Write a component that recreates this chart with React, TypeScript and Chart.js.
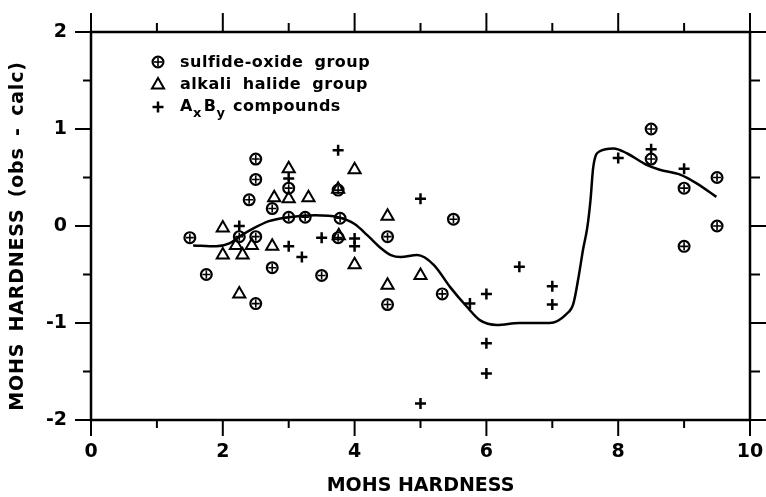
import React, { useEffect, useRef } from 'react';
import { Chart, registerables } from 'chart.js';

Chart.register(...registerables);

// ---- data ----
const sulfideX = [1.5, 1.75, 2.25, 2.5, 2.4, 2.5, 2.5, 2.5, 2.75, 2.75, 3.0, 3.0, 3.25, 3.5, 3.75, 3.78, 3.75, 4.5, 4.5, 5.33, 5.5, 8.5, 8.5, 9.0, 9.0, 9.5, 9.5];
const sulfideY = [-0.12, -0.5, -0.11, -0.11, 0.27, 0.48, 0.69, -0.8, 0.18, -0.43, 0.39, 0.09, 0.09, -0.51, 0.37, 0.08, -0.12, -0.11, -0.81, -0.7, 0.07, 1.0, 0.69, 0.39, -0.21, 0.5, 0.0];

const halideX = [2.0, 2.0, 2.2, 2.3, 2.44, 2.25, 2.75, 2.78, 3.0, 3.0, 3.3, 3.75, 3.76, 4.0, 4.0, 4.5, 4.5, 5.0];
const halideY = [-0.02, -0.3, -0.2, -0.3, -0.2, -0.7, -0.21, 0.29, 0.28, 0.59, 0.29, 0.38, -0.1, 0.58, -0.4, 0.1, -0.61, -0.51];

const axbyX = [2.25, 3.0, 3.0, 3.2, 3.5, 3.75, 4.0, 4.0, 5.0, 5.0, 5.75, 6.0, 6.0, 6.0, 6.5, 7.0, 7.0, 8.0, 8.5, 9.0];
const axbyY = [0.0, 0.49, -0.21, -0.32, -0.12, 0.78, -0.13, -0.21, 0.28, -1.83, -0.8, -0.7, -1.21, -1.52, -0.42, -0.62, -0.81, 0.7, 0.79, 0.59];

const curveX = [1.55, 1.9, 2.1, 2.25, 2.45, 2.7, 3.0, 3.4, 3.75, 4.0, 4.2, 4.4, 4.55, 4.7, 4.95, 5.2, 5.45, 5.7, 5.9, 6.16, 6.5, 6.96, 7.21, 7.32, 7.4, 7.47, 7.53, 7.58, 7.62, 7.72, 7.93, 8.13, 8.43, 8.63, 8.94, 9.19, 9.49];
const curveY = [-0.2, -0.21, -0.18, -0.11, -0.03, 0.05, 0.09, 0.11, 0.09, 0.02, -0.1, -0.23, -0.3, -0.32, -0.3, -0.4, -0.63, -0.83, -0.97, -1.02, -1.0, -1.0, -0.91, -0.8, -0.52, -0.23, -0.02, 0.27, 0.6, 0.77, 0.8, 0.75, 0.63, 0.58, 0.53, 0.44, 0.3];

const xTickMarks = [0, 1, 2, 3, 4, 5, 6, 7, 8, 9, 10];
const yTickMarks = [-2, -1.5, -1, -0.5, 0, 0.5, 1, 1.5, 2];

const xTitle = 'MOHS HARDNESS';
const yTitle = 'MOHS HARDNESS (obs - calc)';
const legendLabel1 = 'sulfide-oxide group';
const legendLabel2 = 'alkali halide group';
const legendLabel3Parts = ['A', 'x', 'B', 'y', 'compounds'];

const pts = (xs: number[], ys: number[]) => xs.map((x, i) => ({ x, y: ys[i] }));

export default function App() {
  const ref = useRef<HTMLCanvasElement | null>(null);

  useEffect(() => {
    document.body.style.margin = '0';
    const canvas = ref.current!;

    const framePlugin = {
      id: 'framePlugin',
      afterDraw(chart: any) {
        const { ctx, chartArea: a, scales } = chart;
        const xs = scales.x;
        const ys = scales.y;
        ctx.save();
        ctx.strokeStyle = '#000';
        ctx.lineCap = 'butt';
        ctx.lineWidth = 2.5;
        ctx.strokeRect(a.left, a.top, a.right - a.left, a.bottom - a.top);
        ctx.lineWidth = 2;
        const line = (x1: number, y1: number, x2: number, y2: number) => {
          ctx.beginPath();
          ctx.moveTo(x1, y1);
          ctx.lineTo(x2, y2);
          ctx.stroke();
        };
        for (const v of xTickMarks) {
          const px = xs.getPixelForValue(v);
          const major = v % 2 === 0;
          line(px, a.bottom, px, a.bottom + (major ? 16 : 8));
          line(px, a.top, px, a.top - (major ? 19 : 9));
        }
        for (const v of yTickMarks) {
          const py = ys.getPixelForValue(v);
          const major = Number.isInteger(v);
          line(a.left, py, a.left - (major ? 16 : 8), py);
          line(a.right, py, a.right + (major ? 16 : 10), py);
        }

        // y axis title (rotated)
        ctx.save();
        ctx.fillStyle = '#000';
        ctx.translate(18, 236);
        ctx.rotate(-Math.PI / 2);
        ctx.font = 'bold 19px "DejaVu Sans"';
        (ctx as any).letterSpacing = '0.8px';
        (ctx as any).wordSpacing = '4px';
        ctx.textAlign = 'center';
        ctx.textBaseline = 'middle';
        ctx.fillText(yTitle, 0, 0);
        ctx.restore();

        // legend
        const mx = 158;
        const rows = [62, 85, 107];
        ctx.lineWidth = 2.2;
        ctx.beginPath();
        ctx.arc(mx, rows[0], 5.4, 0, Math.PI * 2);
        ctx.stroke();
        ctx.lineWidth = 1.6;
        line(mx - 4, rows[0], mx + 4, rows[0]);
        line(mx, rows[0] - 4, mx, rows[0] + 4);
        // triangle
        const r = 7;
        ctx.lineWidth = 2;
        ctx.beginPath();
        ctx.moveTo(mx, rows[1] - r);
        ctx.lineTo(mx + r * Math.sin((2 * Math.PI) / 3), rows[1] - r * Math.cos((2 * Math.PI) / 3));
        ctx.lineTo(mx + r * Math.sin((4 * Math.PI) / 3), rows[1] - r * Math.cos((4 * Math.PI) / 3));
        ctx.closePath();
        ctx.stroke();
        // plus
        ctx.lineWidth = 2.5;
        line(mx - 5.5, rows[2], mx + 5.5, rows[2]);
        line(mx, rows[2] - 5.5, mx, rows[2] + 5.5);

        ctx.fillStyle = '#000';
        ctx.textBaseline = 'alphabetic';
        ctx.textAlign = 'left';
        ctx.font = 'bold 16px "DejaVu Sans"';
        (ctx as any).letterSpacing = '0.5px';
        (ctx as any).wordSpacing = '5px';
        const tx = 180;
        ctx.fillText(legendLabel1, tx, 67);
        ctx.fillText(legendLabel2, tx, 89);
        // A_x B_y compounds
        let cx = tx;
        const base = 111;
        ctx.font = 'bold 16px "DejaVu Sans"';
        ctx.fillText(legendLabel3Parts[0], cx, base);
        cx += ctx.measureText(legendLabel3Parts[0]).width;
        ctx.font = 'bold 13px "DejaVu Sans"';
        ctx.fillText(legendLabel3Parts[1], cx, base + 6);
        cx += ctx.measureText(legendLabel3Parts[1]).width + 2;
        ctx.font = 'bold 16px "DejaVu Sans"';
        ctx.fillText(legendLabel3Parts[2], cx, base);
        cx += ctx.measureText(legendLabel3Parts[2]).width;
        ctx.font = 'bold 13px "DejaVu Sans"';
        ctx.fillText(legendLabel3Parts[3], cx, base + 6);
        ctx.font = 'bold 16px "DejaVu Sans"';
        ctx.fillText(legendLabel3Parts[4], 233, base);
        ctx.restore();
      },
    };

    const tickFont = { family: 'DejaVu Sans', weight: 'bold' as const, size: 19 };
    const titleFont = { family: 'DejaVu Sans', weight: 'bold' as const, size: 19 };
    const sulfidePts = pts(sulfideX, sulfideY);

    const chart = new Chart(canvas, {
      type: 'scatter',
      data: {
        datasets: [
          {
            label: legendLabel1 + ' (cross)',
            data: sulfidePts,
            pointStyle: 'cross',
            pointRadius: 4,
            borderWidth: 1.6,
            borderColor: '#000',
            backgroundColor: 'rgba(0,0,0,0)',
          },
          {
            label: legendLabel1,
            data: sulfidePts,
            pointStyle: 'circle',
            pointRadius: 5.4,
            borderWidth: 2.2,
            borderColor: '#000',
            backgroundColor: 'rgba(0,0,0,0)',
          },
          {
            label: legendLabel2,
            data: pts(halideX, halideY),
            pointStyle: 'triangle',
            pointRadius: 7,
            borderWidth: 2,
            borderColor: '#000',
            backgroundColor: 'rgba(0,0,0,0)',
          },
          {
            label: legendLabel3Parts.join(''),
            data: pts(axbyX, axbyY),
            pointStyle: 'cross',
            pointRadius: 5.5,
            borderWidth: 2.5,
            borderColor: '#000',
            backgroundColor: 'rgba(0,0,0,0)',
          },
          {
            label: 'fit',
            data: pts(curveX, curveY),
            showLine: true,
            pointRadius: 0,
            borderColor: '#000',
            borderWidth: 2.5,
            cubicInterpolationMode: 'monotone',
            fill: false,
          } as any,
        ],
      },
      options: {
        responsive: false,
        animation: false,
        devicePixelRatio: 1,
        layout: { padding: { top: 32, right: 16, left: 0, bottom: 0 } },
        plugins: { legend: { display: false }, tooltip: { enabled: false } },
        scales: {
          x: {
            type: 'linear',
            min: 0,
            max: 10,
            afterFit: (s: any) => {
              s.height = 77;
              s.paddingLeft = 0;
              s.paddingRight = 0;
            },
            grid: { display: false, drawTicks: false },
            border: { display: false },
            ticks: { stepSize: 2, padding: 21, color: '#000', font: tickFont, maxRotation: 0, autoSkip: false },
            title: { display: true, text: xTitle, color: '#000', font: titleFont, padding: 0 },
          },
          y: {
            type: 'linear',
            min: -2,
            max: 2,
            afterFit: (s: any) => {
              s.width = 91;
              s.paddingTop = 0;
              s.paddingBottom = 0;
            },
            grid: { display: false, drawTicks: false },
            border: { display: false },
            ticks: { stepSize: 1, padding: 24, color: '#000', font: tickFont },
            title: { display: false },
          },
        },
      },
      plugins: [framePlugin],
    });
    return () => chart.destroy();
  }, []);

  return (
    <div style={{ position: 'absolute', left: 0, top: 0, width: 766, height: 497, background: '#fff' }}>
      <canvas ref={ref} width={766} height={497} />
    </div>
  );
}
